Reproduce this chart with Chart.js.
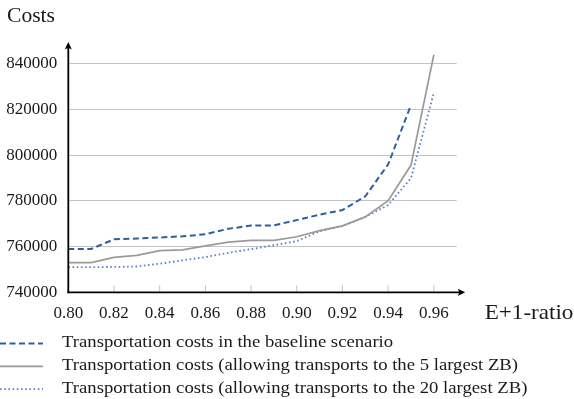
<!DOCTYPE html>
<html>
<head>
<meta charset="utf-8">
<script src="https://cdn.jsdelivr.net/npm/chart.js@4"></script>
<style>
  html, body { margin: 0; padding: 0; background: #ffffff; }
  #wrap { width: 574px; height: 399px; position: relative; }
</style>
</head>
<body>
<div id="wrap"><canvas id="chart" width="574" height="399"></canvas></div>
<script>
// E+1-ratio values on the horizontal axis
const ratios = [0.80, 0.81, 0.82, 0.83, 0.84, 0.85, 0.86, 0.87, 0.88, 0.89,
                0.90, 0.91, 0.92, 0.93, 0.94, 0.95, 0.96];

// Transportation costs per scenario (baseline stops at 0.95)
const baselineCosts = [759000, 759000, 763200, 763500, 764000, 764500, 765400, 767800,
                       769200, 769300, 771600, 774000, 776000, 782000, 796000, 822000];
const top5Costs = [753000, 753000, 755300, 756200, 758200, 758600, 760300, 762000,
                   762700, 762700, 764300, 767000, 769100, 773000, 780100, 795700, 844000];
const top20Costs = [751000, 751000, 751100, 751300, 752500, 754000, 755400, 757300,
                    758900, 760600, 762400, 766700, 769000, 773000, 778200, 790000, 827300];

const seriesLabels = [
  'Transportation costs in the baseline scenario',
  'Transportation costs (allowing transports to the 5 largest ZB)',
  'Transportation costs (allowing transports to the 20 largest ZB)'
];

const xTickValues = [0.80, 0.82, 0.84, 0.86, 0.88, 0.90, 0.92, 0.94, 0.96];
const yTickValues = [740000, 760000, 780000, 800000, 820000, 840000];

const SERIF = '"Liberation Serif", "Times New Roman", serif';
const TEXT = '#1a1a1a';

function points(values) {
  return values.map((v, i) => ({ x: ratios[i], y: v }));
}

// Draw text slightly widened, closer to a Computer Modern look
function wideText(ctx, text, x, y, sx) {
  ctx.save();
  ctx.translate(x, y);
  ctx.scale(sx, 1);
  ctx.fillText(text, 0, 0);
  ctx.restore();
}

// Black axes with arrow heads, short tick marks on the x axis
const axesPlugin = {
  id: 'axesWithArrows',
  afterDatasetsDraw(chart) {
    const { ctx, chartArea: a, scales } = chart;
    const xs = scales.x;
    ctx.save();
    // tick marks pointing up from the x axis
    ctx.strokeStyle = '#c4c4c4';
    ctx.lineWidth = 1;
    xTickValues.slice(1).forEach(v => {
      const px = xs.getPixelForValue(v);
      ctx.beginPath();
      ctx.moveTo(px, a.bottom - 7);
      ctx.lineTo(px, a.bottom);
      ctx.stroke();
    });
    ctx.strokeStyle = '#000';
    ctx.fillStyle = '#000';
    ctx.lineWidth = 1.8;
    // y axis
    const yTip = a.top + 1;
    ctx.beginPath();
    ctx.moveTo(a.left, a.bottom + 0.9);
    ctx.lineTo(a.left, yTip + 3);
    ctx.stroke();
    ctx.beginPath();
    ctx.moveTo(a.left, yTip);
    ctx.lineTo(a.left - 3.6, yTip + 7.5);
    ctx.quadraticCurveTo(a.left, yTip + 5, a.left + 3.6, yTip + 7.5);
    ctx.closePath();
    ctx.fill();
    // x axis
    const xTip = a.right + 8.5;
    ctx.beginPath();
    ctx.moveTo(a.left - 0.9, a.bottom);
    ctx.lineTo(xTip - 3, a.bottom);
    ctx.stroke();
    ctx.beginPath();
    ctx.moveTo(xTip, a.bottom);
    ctx.lineTo(xTip - 7.5, a.bottom - 3.6);
    ctx.quadraticCurveTo(xTip - 5, a.bottom, xTip - 7.5, a.bottom + 3.6);
    ctx.closePath();
    ctx.fill();
    ctx.restore();
  }
};

// Axis captions and the stacked legend under the plot
const captionsPlugin = {
  id: 'captionsAndLegend',
  afterDraw(chart) {
    const { ctx, chartArea: a } = chart;
    ctx.save();
    ctx.fillStyle = TEXT;
    ctx.textBaseline = 'middle';
    ctx.textAlign = 'left';
    ctx.font = '20px ' + SERIF;
    wideText(ctx, 'Costs', 7, 17, 1.08);
    ctx.font = '21px ' + SERIF;
    wideText(ctx, 'E+1-ratio', a.right + 28, a.bottom + 21, 1.1);

    ctx.font = '17px ' + SERIF;
    chart.data.datasets.forEach((ds, i) => {
      const y = 342.7 + i * 22.8;
      ctx.save();
      ctx.strokeStyle = ds.borderColor;
      ctx.lineWidth = ds.borderWidth;
      ctx.setLineDash(ds.borderDash || []);
      ctx.beginPath();
      ctx.moveTo(0, y + 0.8);
      ctx.lineTo(43, y + 0.8);
      ctx.stroke();
      ctx.restore();
      wideText(ctx, ds.label, 62, y, 1.1);
    });
    ctx.restore();
  }
};

new Chart(document.getElementById('chart'), {
  type: 'line',
  data: {
    datasets: [
      {
        label: seriesLabels[0],
        data: points(baselineCosts),
        borderColor: '#2e5f9c',
        borderWidth: 2,
        borderDash: [6, 3.5],
        pointRadius: 0,
        tension: 0
      },
      {
        label: seriesLabels[1],
        data: points(top5Costs),
        borderColor: '#9a9a9a',
        borderWidth: 1.7,
        borderDash: [],
        pointRadius: 0,
        tension: 0
      },
      {
        label: seriesLabels[2],
        data: points(top20Costs),
        borderColor: '#5a80cc',
        borderWidth: 1.8,
        borderDash: [1.6, 2.6],
        pointRadius: 0,
        tension: 0
      }
    ]
  },
  options: {
    responsive: false,
    animation: false,
    events: [],
    layout: { padding: { top: 41, right: 117.3, bottom: 76.7, left: 0 } },
    plugins: {
      legend: { display: false },
      title: { display: false },
      tooltip: { enabled: false }
    },
    scales: {
      x: {
        type: 'linear',
        min: 0.80,
        max: 0.97,
        afterBuildTicks(scale) { scale.ticks = xTickValues.map(v => ({ value: v })); },
        afterFit(scale) { scale.height = 30; },
        grid: { display: false, drawTicks: false },
        border: { display: false },
        ticks: {
          padding: 10.8,
          color: TEXT,
          font: { family: SERIF, size: 17 },
          maxRotation: 0,
          autoSkip: false,
          callback: v => v.toFixed(2)
        }
      },
      y: {
        type: 'linear',
        min: 740000,
        max: 850000,
        afterBuildTicks(scale) { scale.ticks = yTickValues.map(v => ({ value: v })); },
        afterFit(scale) { scale.width = 68.3; },
        grid: { color: '#c4c4c4', lineWidth: 1, drawTicks: false },
        border: { display: false },
        ticks: {
          padding: 11,
          color: TEXT,
          font: { family: SERIF, size: 17 },
          autoSkip: false,
          callback: v => String(v)
        }
      }
    }
  },
  plugins: [axesPlugin, captionsPlugin]
});
</script>
</body>
</html>
